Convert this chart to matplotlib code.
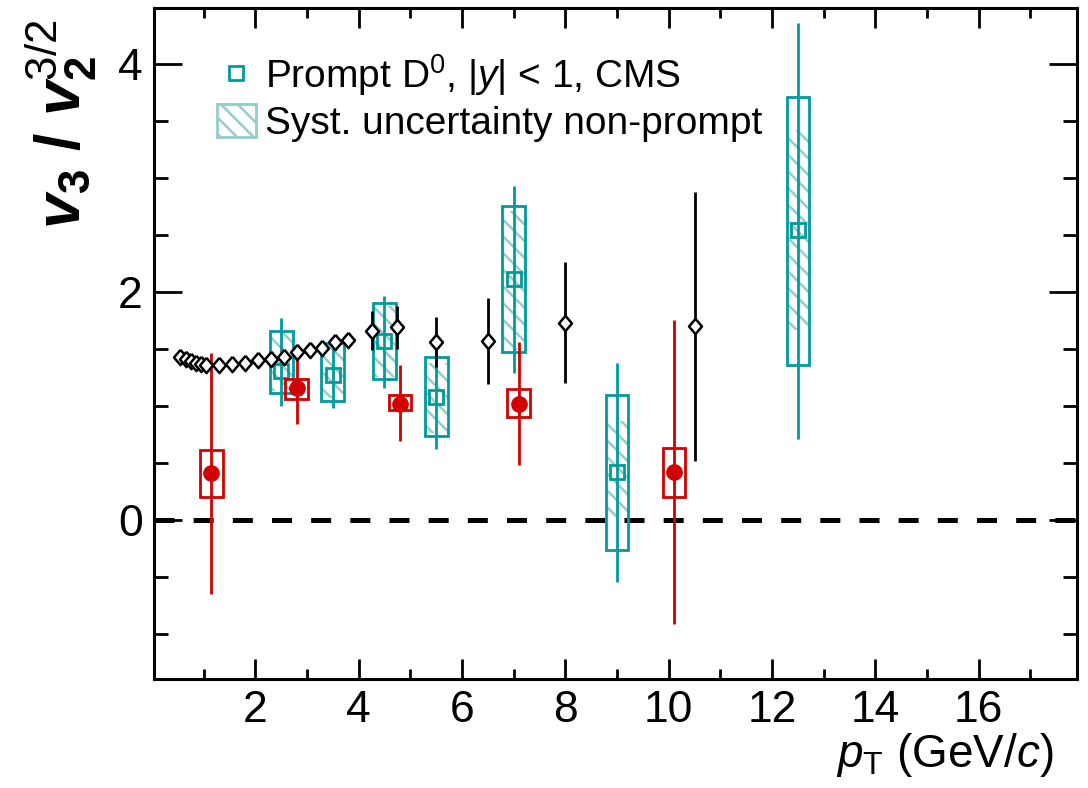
import matplotlib
matplotlib.use('Agg')
import numpy as np
import matplotlib.pyplot as plt
from matplotlib.patches import Rectangle, Patch
from matplotlib.lines import Line2D
from matplotlib.ticker import MultipleLocator

# light-flavour reference (black open diamonds)
ref_pt = [0.55, 0.65, 0.75, 0.85, 0.95, 1.05, 1.3, 1.55, 1.8, 2.05, 2.3,
          2.55, 2.8, 3.05, 3.3, 3.55, 3.8]
ref_v = [1.43, 1.41, 1.39, 1.38, 1.37, 1.36, 1.36, 1.37, 1.38, 1.40, 1.41,
         1.43, 1.47, 1.49, 1.51, 1.56, 1.58]
ref_pt_hi = [4.25, 4.75, 5.5, 6.5, 8.0, 10.5]
ref_v_hi = [1.66, 1.69, 1.56, 1.57, 1.73, 1.70]
ref_err_hi = [0.17, 0.19, 0.22, 0.38, 0.53, 1.18]

# prompt D0, CMS (teal)
cms_pt = [2.5, 3.5, 4.5, 5.5, 7.0, 9.0, 12.5]
cms_v = [1.31, 1.27, 1.57, 1.08, 2.11, 0.42, 2.54]
cms_lo = [1.00, 0.98, 1.16, 0.62, 1.29, -0.54, 0.71]
cms_hi = [1.77, 1.59, 1.96, 1.54, 2.93, 1.38, 4.36]
cms_sys_lo = [1.11, 1.04, 1.24, 0.74, 1.47, -0.26, 1.36]
cms_sys_hi = [1.66, 1.55, 1.90, 1.43, 2.75, 1.10, 3.71]
cms_np_lo = [1.13, 1.07, 1.25, 0.76, 1.49, 0.03, 1.67]
cms_np_hi = [1.64, 1.53, 1.88, 1.38, 2.71, 0.87, 3.42]

# non-prompt D0 (red)
np_pt = [1.15, 2.8, 4.8, 7.1, 10.1]
np_v = [0.41, 1.16, 1.02, 1.02, 0.42]
np_lo = [-0.65, 0.84, 0.69, 0.48, -0.91]
np_hi = [1.46, 1.46, 1.36, 1.56, 1.75]
np_sys_lo = [0.20, 1.06, 0.96, 0.90, 0.20]
np_sys_hi = [0.61, 1.24, 1.10, 1.15, 0.63]

teal = '#009b9b'
teal_light = '#94cccc'
red = '#d20000'
box_w = 0.44

plt.rcParams['font.family'] = 'Liberation Sans'
plt.rcParams['mathtext.fontset'] = 'custom'
plt.rcParams['mathtext.rm'] = 'Liberation Sans'
plt.rcParams['mathtext.it'] = 'Liberation Sans:italic'
plt.rcParams['mathtext.bf'] = 'Liberation Sans:bold'
plt.rcParams['mathtext.bfit'] = 'Liberation Sans:bold:italic'
plt.rcParams['hatch.linewidth'] = 1.8
plt.rcParams['lines.scale_dashes'] = False

fig = plt.figure(figsize=(10.88, 7.88), dpi=100)
ax = fig.add_axes([154 / 1088, 109 / 788, 923 / 1088, 671 / 788])

# teal: hatched non-prompt syst, syst boxes, stat bars
for x, lo, hi in zip(cms_pt, cms_np_lo, cms_np_hi):
    ax.add_patch(Rectangle((x - box_w / 2, lo), box_w, hi - lo, facecolor='none',
                           edgecolor=teal_light, hatch='\\\\', linewidth=0, zorder=2))
for x, lo, hi in zip(cms_pt, cms_sys_lo, cms_sys_hi):
    ax.add_patch(Rectangle((x - box_w / 2, lo), box_w, hi - lo, facecolor='none',
                           edgecolor=teal, linewidth=2, zorder=3))
cms_v_a = np.array(cms_v)
ax.errorbar(cms_pt, cms_v, yerr=[cms_v_a - np.array(cms_lo), np.array(cms_hi) - cms_v_a],
            fmt='none', ecolor=teal, elinewidth=2, capsize=0, zorder=3)
ax.plot(cms_pt, cms_v, ls='none', marker='s', ms=10, mfc='none', mec=teal, mew=2, zorder=4)

# red: non-prompt
for x, lo, hi in zip(np_pt, np_sys_lo, np_sys_hi):
    ax.add_patch(Rectangle((x - box_w / 2, lo), box_w, hi - lo, facecolor='none',
                           edgecolor=red, linewidth=2, zorder=5))
np_v_a = np.array(np_v)
ax.errorbar(np_pt, np_v, yerr=[np_v_a - np.array(np_lo), np.array(np_hi) - np_v_a],
            fmt='none', ecolor=red, elinewidth=2, capsize=0, zorder=5)
ax.plot(np_pt, np_v, ls='none', marker='o', ms=11, mfc=red, mec=red, zorder=6)

# black diamonds
diamond = [(0, 1), (0.85, 0), (0, -1), (-0.85, 0), (0, 1)]
ax.errorbar(ref_pt_hi, ref_v_hi, yerr=ref_err_hi, fmt='none', ecolor='black',
            elinewidth=2, capsize=0, zorder=7)
ax.plot(ref_pt + ref_pt_hi, ref_v + ref_v_hi, ls='none', marker=diamond, ms=11,
        mfc='white', mec='black', mew=1.8, zorder=8)

ax.axhline(0, color='black', lw=3.6, ls=(0, (14.4, 13.8)), zorder=1)

ax.set_xlim(0.04, 17.9)
ax.set_ylim(-1.395, 4.49)
ax.xaxis.set_major_locator(MultipleLocator(2))
ax.xaxis.set_minor_locator(MultipleLocator(1))
ax.yaxis.set_major_locator(MultipleLocator(2))
ax.yaxis.set_minor_locator(MultipleLocator(0.5))
ax.tick_params(which='both', direction='in', top=True, right=True, width=2,
               labelsize=32, pad=8)
ax.tick_params(axis='x', which='major', length=14.4)
ax.tick_params(axis='x', which='minor', length=7.2)
ax.tick_params(axis='y', which='major', length=20)
ax.tick_params(axis='y', which='minor', length=10)
for s in ax.spines.values():
    s.set_linewidth(2.2)

ax.set_xlabel(r'$p_{\mathrm{T}}$ (GeV/$c$)', fontsize=33, loc='right')
ax.xaxis.set_label_coords(0.974, -0.077)
ax.set_ylabel(r'$\mathbfit{v}_{\mathbf{3}}$ / $\mathbfit{v}_{\mathbf{2}}^{\mathrm{3/2}}$',
              fontsize=45, fontweight='bold', loc='top')
ax.yaxis.set_label_coords(-0.06, 0.982)

handles = [Line2D([], [], ls='none', marker='s', ms=10, mfc='none', mec=teal, mew=2),
           Patch(facecolor='white', edgecolor=teal_light, hatch='\\\\', linewidth=2)]
labels = [r'Prompt D$^{0}$, |$y$| < 1, CMS', 'Syst. uncertainty non-prompt']
ax.legend(handles, labels, loc='upper left', bbox_to_anchor=(0.068, 0.934),
          frameon=False, fontsize=28, borderpad=0, borderaxespad=0,
          handlelength=1.0, handleheight=0.93, handletextpad=0.23, labelspacing=0.15)

plt.savefig('out.png', dpi=100)
